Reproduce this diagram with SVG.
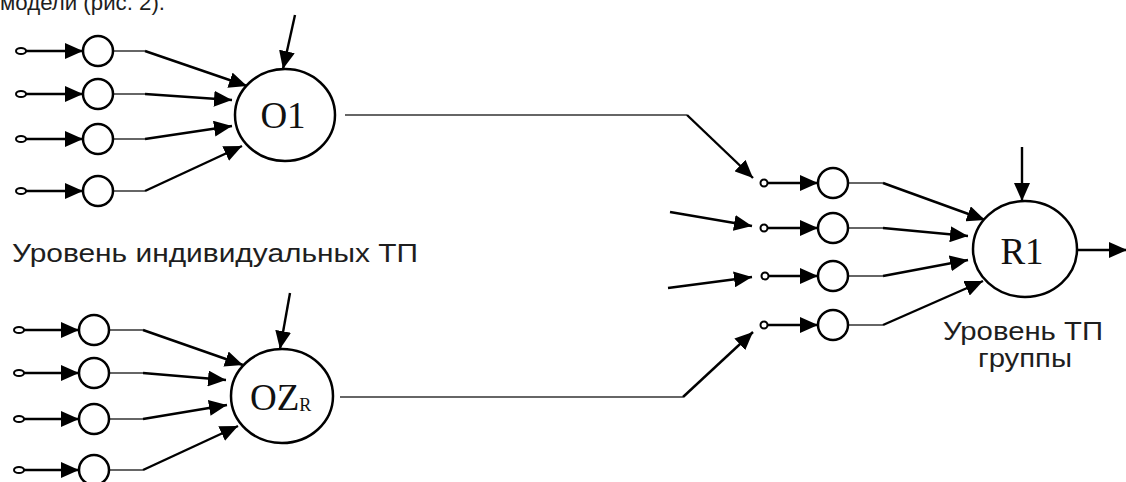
<svg xmlns="http://www.w3.org/2000/svg" width="1126" height="482" viewBox="0 0 1126 482">
  <defs>
    <marker id="ah" markerWidth="18" markerHeight="16" refX="18" refY="8" orient="auto" markerUnits="userSpaceOnUse">
      <path d="M0,0 L18,8 L0,16 z" fill="#000"/>
    </marker>
    <style>
      .lbl { font-family: "Liberation Sans", Arial, sans-serif; fill: #1e1e1e; }
      .nm { font-family: "Liberation Serif", "Times New Roman", serif; fill: #111; }
      .big { fill: #fff; stroke: #000; stroke-width: 2.5; }
      .sm { fill: #fff; stroke: #000; stroke-width: 2.5; }
      .term { fill: #fff; stroke: #000; stroke-width: 2; }
      .arr { fill: none; stroke: #000; stroke-width: 2.4; marker-end: url(#ah); }
      .tail { fill: none; stroke: #666; stroke-width: 2; }
    </style>
  </defs>
  <rect width="1126" height="482" fill="#fff"/>

  <!-- caption fragment at the top edge -->
  <text class="lbl" x="0" y="10" font-size="22" textLength="165" lengthAdjust="spacingAndGlyphs">модели (рис. 2).</text>

  <!-- connectors -->
  <g id="connectors">
    <!-- upper input group: terminal to element -->
    <line class="arr" x1="26" y1="51" x2="83" y2="51"/>
    <line class="arr" x1="26" y1="94" x2="83" y2="94"/>
    <line class="arr" x1="26" y1="139" x2="83" y2="139"/>
    <line class="arr" x1="26" y1="191" x2="83" y2="191"/>
    <!-- upper input group: element to O1 -->
    <line class="tail" x1="113" y1="51" x2="145" y2="51"/>
    <line class="tail" x1="113" y1="94" x2="145" y2="94"/>
    <line class="tail" x1="113" y1="139" x2="145" y2="139"/>
    <line class="tail" x1="113" y1="191" x2="145" y2="191"/>
    <line class="arr" x1="145" y1="51" x2="247" y2="86"/>
    <line class="arr" x1="145" y1="94" x2="232" y2="100"/>
    <line class="arr" x1="145" y1="139" x2="232" y2="126"/>
    <line class="arr" x1="145" y1="191" x2="242" y2="146"/>
    <line class="arr" x1="295" y1="15" x2="283" y2="69"/>

    <!-- lower input group: terminal to element -->
    <line class="arr" x1="24" y1="330" x2="79" y2="330"/>
    <line class="arr" x1="24" y1="373" x2="79" y2="373"/>
    <line class="arr" x1="24" y1="419" x2="79" y2="419"/>
    <line class="arr" x1="24" y1="470" x2="79" y2="470"/>
    <!-- lower input group: element to OZR -->
    <line class="tail" x1="109" y1="330" x2="143" y2="330"/>
    <line class="tail" x1="109" y1="373" x2="143" y2="373"/>
    <line class="tail" x1="109" y1="419" x2="143" y2="419"/>
    <line class="tail" x1="109" y1="470" x2="143" y2="470"/>
    <line class="arr" x1="143" y1="330" x2="243" y2="365"/>
    <line class="arr" x1="143" y1="373" x2="226" y2="380"/>
    <line class="arr" x1="143" y1="419" x2="227" y2="405"/>
    <line class="arr" x1="143" y1="470" x2="238" y2="426"/>
    <line class="arr" x1="290" y1="293" x2="280" y2="349"/>

    <!-- O1 and OZR outputs to the group level -->
    <line class="tail" x1="345" y1="115" x2="687" y2="115"/>
    <line class="arr" x1="687" y1="115" x2="753" y2="178"/>
    <line class="tail" x1="340" y1="397" x2="683" y2="397"/>
    <line class="arr" x1="683" y1="397" x2="753" y2="332"/>
    <!-- other incoming signals -->
    <line class="arr" x1="670" y1="212" x2="752" y2="226"/>
    <line class="arr" x1="668" y1="288" x2="752" y2="277"/>

    <!-- group level: terminal to element -->
    <line class="arr" x1="768" y1="183" x2="818" y2="183"/>
    <line class="arr" x1="768" y1="228" x2="818" y2="228"/>
    <line class="arr" x1="769" y1="276" x2="818" y2="276"/>
    <line class="arr" x1="768" y1="325" x2="818" y2="325"/>
    <!-- group level: element to R1 -->
    <line class="tail" x1="848" y1="183" x2="883" y2="183"/>
    <line class="tail" x1="848" y1="228" x2="883" y2="228"/>
    <line class="tail" x1="848" y1="276" x2="883" y2="276"/>
    <line class="tail" x1="848" y1="325" x2="883" y2="325"/>
    <line class="arr" x1="883" y1="183" x2="985" y2="220"/>
    <line class="arr" x1="883" y1="228" x2="968" y2="236"/>
    <line class="arr" x1="883" y1="276" x2="968" y2="260"/>
    <line class="arr" x1="883" y1="325" x2="983" y2="281"/>
    <line class="arr" x1="1022" y1="147" x2="1022" y2="201"/>
    <line class="arr" x1="1077" y1="250" x2="1127" y2="250"/>
  </g>

  <!-- upper individual level -->
  <g id="in-a1"><ellipse class="term" cx="21" cy="51" rx="5" ry="3"/><circle class="sm" cx="98" cy="51" r="15"/></g>
  <g id="in-a2"><ellipse class="term" cx="21" cy="94" rx="5" ry="3"/><circle class="sm" cx="98" cy="94" r="15"/></g>
  <g id="in-a3"><ellipse class="term" cx="21" cy="139" rx="5" ry="3"/><circle class="sm" cx="98" cy="139" r="15"/></g>
  <g id="in-a4"><ellipse class="term" cx="21" cy="191" rx="5" ry="3"/><circle class="sm" cx="98" cy="191" r="15"/></g>
  <g id="node-o1">
    <ellipse class="big" cx="285" cy="115" rx="50" ry="46"/>
    <text class="nm" x="283" y="128" font-size="37" text-anchor="middle">O1</text>
  </g>

  <text id="label-individual" class="lbl" x="12" y="262" font-size="26" textLength="406" lengthAdjust="spacingAndGlyphs">Уровень индивидуальных ТП</text>

  <!-- lower individual level -->
  <g id="in-b1"><ellipse class="term" cx="19" cy="330" rx="5" ry="3"/><circle class="sm" cx="94" cy="330" r="15"/></g>
  <g id="in-b2"><ellipse class="term" cx="19" cy="373" rx="5" ry="3"/><circle class="sm" cx="94" cy="373" r="15"/></g>
  <g id="in-b3"><ellipse class="term" cx="19" cy="419" rx="5" ry="3"/><circle class="sm" cx="94" cy="419" r="15"/></g>
  <g id="in-b4"><ellipse class="term" cx="19" cy="470" rx="5" ry="3"/><circle class="sm" cx="94" cy="470" r="15"/></g>
  <g id="node-ozr">
    <ellipse class="big" cx="282" cy="396" rx="51" ry="47"/>
    <text class="nm" x="250" y="410" font-size="37">OZ<tspan font-size="18" dy="1">R</tspan></text>
  </g>

  <!-- group level -->
  <g id="in-g1"><circle class="term" cx="764" cy="183" r="3.5"/><circle class="sm" cx="833" cy="183" r="15"/></g>
  <g id="in-g2"><circle class="term" cx="764" cy="228" r="3.5"/><circle class="sm" cx="833" cy="228" r="15"/></g>
  <g id="in-g3"><circle class="term" cx="765" cy="276" r="3.5"/><circle class="sm" cx="833" cy="276" r="15"/></g>
  <g id="in-g4"><circle class="term" cx="764" cy="325" r="3.5"/><circle class="sm" cx="833" cy="325" r="15"/></g>
  <g id="node-r1">
    <ellipse class="big" cx="1025" cy="249" rx="52" ry="48"/>
    <text class="nm" x="1022" y="264" font-size="37" text-anchor="middle">R1</text>
  </g>

  <g id="label-group">
    <text class="lbl" x="943" y="340" font-size="25" textLength="160" lengthAdjust="spacingAndGlyphs">Уровень ТП</text>
    <text class="lbl" x="978" y="367" font-size="25" textLength="94" lengthAdjust="spacingAndGlyphs">группы</text>
  </g>
</svg>
